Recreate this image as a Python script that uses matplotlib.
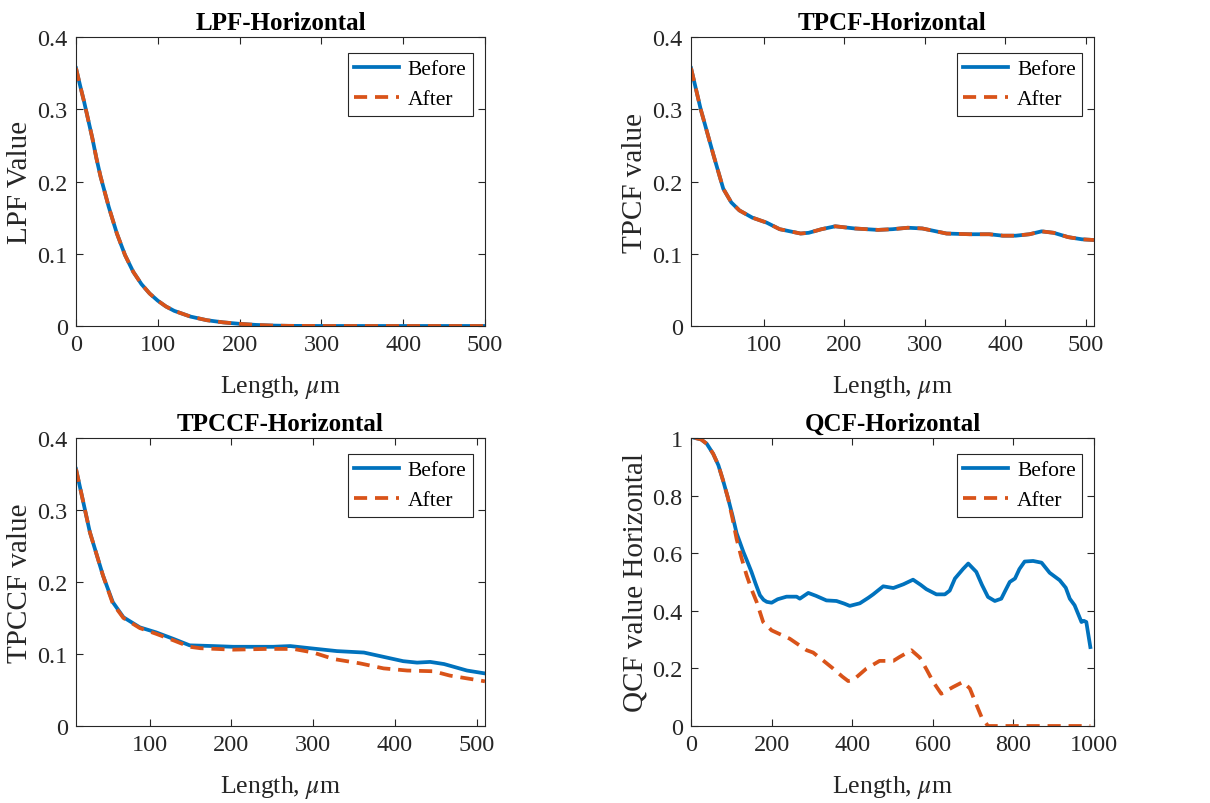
import matplotlib.pyplot as plt

plt.rcParams['font.family'] = ['Liberation Serif', 'DejaVu Serif']
plt.rcParams['mathtext.fontset'] = 'stix'

blue = '#0072BD'
orange = '#D95319'

# LPF - horizontal
lpf_x = [0, 5, 10, 15, 20, 25, 30, 40, 50, 60, 70, 80, 90, 100, 110, 120, 140,
         160, 180, 200, 220, 240, 260, 300, 350, 400, 450, 500]
lpf_before = [0.357, 0.333, 0.31, 0.285, 0.26, 0.232, 0.207, 0.165, 0.128, 0.098,
              0.075, 0.058, 0.045, 0.035, 0.027, 0.021, 0.013, 0.008, 0.005, 0.003,
              0.0015, 0.0006, 0.0002, 0, 0, 0, 0, 0]
lpf_after = lpf_before

# TPCF - horizontal
tpcf_x = [10, 22, 38, 50, 60, 70, 86, 104, 120, 146, 156, 172, 189, 213, 242,
          260, 279, 297, 327, 356, 380, 397, 413, 430, 445, 460, 478, 495, 510]
tpcf_before = [0.357, 0.30, 0.236, 0.19, 0.171, 0.16, 0.150, 0.143, 0.134, 0.128,
               0.129, 0.134, 0.138, 0.135, 0.133, 0.134, 0.136, 0.135, 0.128, 0.127,
               0.127, 0.125, 0.125, 0.127, 0.131, 0.129, 0.123, 0.120, 0.119]
tpcf_after = tpcf_before

# TPCCF - horizontal
tpccf_x = [10, 27, 43, 55, 68, 88, 108, 129, 149, 178, 202, 227, 251, 272, 296,
           329, 362, 386, 410, 427, 443, 460, 488, 510]
tpccf_before = [0.357, 0.269, 0.209, 0.172, 0.151, 0.137, 0.130, 0.121, 0.112,
                0.111, 0.110, 0.110, 0.110, 0.111, 0.108, 0.104, 0.102, 0.096,
                0.090, 0.088, 0.089, 0.086, 0.077, 0.073]
tpccf_after_x = [10, 27, 43, 55, 68, 88, 108, 129, 149, 162, 202, 243, 276, 300,
                 325, 357, 386, 415, 447, 467, 510]
tpccf_after = [0.357, 0.269, 0.209, 0.170, 0.150, 0.136, 0.128, 0.119, 0.110,
               0.108, 0.106, 0.107, 0.107, 0.102, 0.093, 0.087, 0.080, 0.077,
               0.076, 0.070, 0.062]

# QCF - horizontal
qcf_x = [10, 25, 39, 55, 68, 80, 92, 103, 113, 122, 130, 140, 150, 160, 171, 180,
         188, 200, 215, 237, 262, 270, 291, 310, 336, 361, 380, 394, 419, 440,
         452, 477, 502, 527, 551, 570, 584, 609, 630, 642, 655, 675, 688, 708,
         722, 737, 754, 770, 780, 791, 804, 815, 828, 849, 870, 890, 915, 930,
         940, 952, 969, 975, 981, 991]
qcf_before = [1.0, 0.995, 0.98, 0.945, 0.905, 0.85, 0.79, 0.73, 0.67, 0.635,
              0.604, 0.57, 0.535, 0.495, 0.454, 0.438, 0.431, 0.428, 0.44, 0.449,
              0.449, 0.442, 0.462, 0.452, 0.436, 0.434, 0.425, 0.417, 0.426, 0.445,
              0.457, 0.485, 0.479, 0.492, 0.508, 0.49, 0.475, 0.457, 0.457, 0.47,
              0.512, 0.545, 0.564, 0.535, 0.49, 0.448, 0.434, 0.442, 0.47, 0.50,
              0.512, 0.545, 0.571, 0.573, 0.567, 0.532, 0.506, 0.48, 0.442, 0.419,
              0.361, 0.365, 0.361, 0.274]
qcf_after_x = [10, 25, 39, 55, 68, 80, 92, 103, 113, 125, 138, 150, 163, 179, 200,
               245, 287, 303, 330, 353, 375, 390, 402, 435, 468, 502, 518, 547, 568,
               585, 601, 621, 650, 675, 692, 705, 721, 737, 800, 900, 991]
qcf_after = [1.0, 0.995, 0.98, 0.945, 0.905, 0.85, 0.79, 0.72, 0.65, 0.585, 0.523,
             0.475, 0.43, 0.361, 0.332, 0.303, 0.263, 0.255, 0.225, 0.199, 0.172,
             0.156, 0.159, 0.199, 0.226, 0.226, 0.24, 0.263, 0.237, 0.195, 0.153,
             0.112, 0.135, 0.153, 0.13, 0.085, 0.031, 0, 0, 0, 0]

panels = [
    ('LPF-Horizontal', 'LPF Value', lpf_x, lpf_before, lpf_x, lpf_after,
     (0, 500), [0, 100, 200, 300, 400, 500], (0, 0.4), [0, 0.1, 0.2, 0.3, 0.4]),
    ('TPCF-Horizontal', 'TPCF value', tpcf_x, tpcf_before, tpcf_x, tpcf_after,
     (10, 510), [100, 200, 300, 400, 500], (0, 0.4), [0, 0.1, 0.2, 0.3, 0.4]),
    ('TPCCF-Horizontal', 'TPCCF value', tpccf_x, tpccf_before, tpccf_after_x, tpccf_after,
     (10, 510), [100, 200, 300, 400, 500], (0, 0.4), [0, 0.1, 0.2, 0.3, 0.4]),
    ('QCF-Horizontal', 'QCF value Horizontal', qcf_x, qcf_before, qcf_after_x, qcf_after,
     (0, 1000), [0, 200, 400, 600, 800, 1000], (0, 1), [0, 0.2, 0.4, 0.6, 0.8, 1]),
]

positions = [
    [0.0628, 0.5933, 0.338, 0.3594],
    [0.5711, 0.5933, 0.333, 0.3594],
    [0.0628, 0.0958, 0.338, 0.3582],
    [0.5711, 0.0958, 0.333, 0.3582],
]

fig = plt.figure(figsize=(12.1, 8.04), dpi=100)
for pos, (title, ylab, xb, yb, xa, ya, xlim, xt, ylim, yt) in zip(positions, panels):
    ax = fig.add_axes(pos)
    ax.plot(xb, yb, color=blue, lw=2.7, label='Before')
    ax.plot(xa, ya, color=orange, lw=2.7, dashes=(3.5, 2.1), label='After')
    ax.set_xlim(*xlim)
    ax.set_ylim(*ylim)
    ax.set_xticks(xt)
    ax.set_yticks(yt)
    ax.set_yticklabels(['%g' % v for v in yt])
    ax.tick_params(direction='in', top=True, right=True, length=5, width=0.8,
                   labelsize=17.5, colors='#262626', pad=6)
    for s in ax.spines.values():
        s.set_color('#262626')
        s.set_linewidth(0.8)
    ax.set_title(title, fontsize=18, fontweight='bold', pad=6)
    ax.set_xlabel(r'Length, $\mu$m', fontsize=18.5, color='#262626', labelpad=13)
    ax.set_ylabel(ylab, fontsize=21, color='#262626', labelpad=3)
    leg = ax.legend(loc='upper right', bbox_to_anchor=(0.971, 0.945), borderaxespad=0,
                    fontsize=15.5, fancybox=False, framealpha=1, edgecolor='#262626',
                    handlelength=2.1, handletextpad=0.4, borderpad=0.3,
                    labelspacing=0.45)
    leg.get_frame().set_linewidth(0.8)

fig.savefig('out.png', dpi=100)
